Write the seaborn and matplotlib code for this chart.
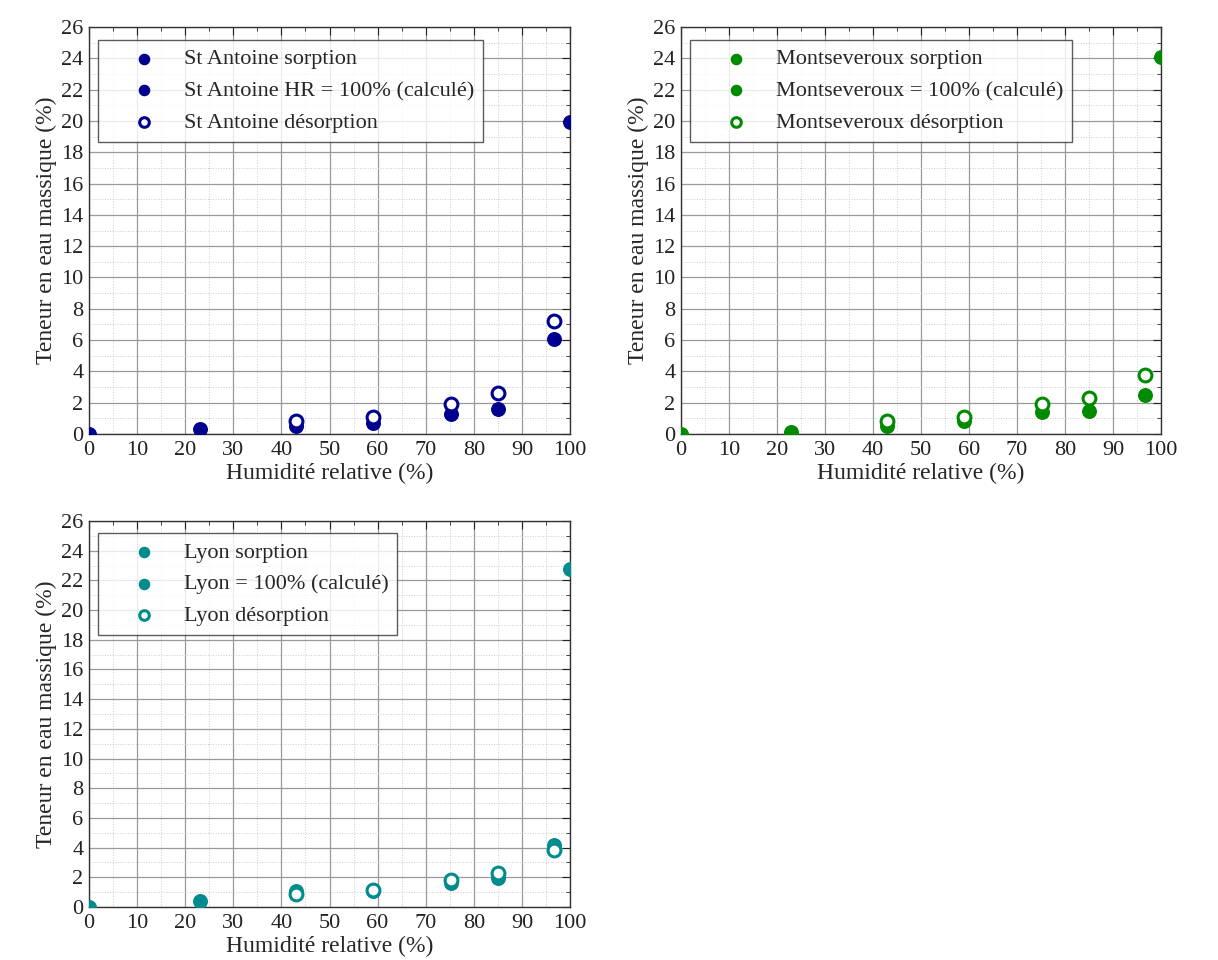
import numpy as np
import pandas as pd
import matplotlib
matplotlib.use("Agg")
import matplotlib.pyplot as plt
import seaborn as sns
from matplotlib.ticker import MultipleLocator

sns.set_style("white")
plt.rcParams['font.family'] = ['Liberation Serif', 'DejaVu Serif']

# Data
hr_sorp = [0, 23, 43, 59, 75.3, 85, 96.7]
hr_desorp = [43, 59, 75.3, 85, 96.7]
hr_calc = [100]

stantoine_sorp = [0, 0.35, 0.5, 0.7, 1.3, 1.6, 6.05]
stantoine_calc = [19.9]
stantoine_desorp = [0.8, 1.1, 1.9, 2.6, 7.25]

montsev_sorp = [0, 0.15, 0.5, 0.8, 1.4, 1.5, 2.5]
montsev_calc = [24.1]
montsev_desorp = [0.85, 1.1, 1.9, 2.3, 3.75]

lyon_sorp = [0, 0.4, 1.1, 1.05, 1.6, 1.95, 4.15]
lyon_calc = [22.8]
lyon_desorp = [0.85, 1.15, 1.85, 2.3, 3.85]

panels = [
    ("St Antoine", "St Antoine HR = 100% (calculé)", "#00008f",
     stantoine_sorp, stantoine_calc, stantoine_desorp),
    ("Montseveroux", "Montseveroux = 100% (calculé)", "#008a00",
     montsev_sorp, montsev_calc, montsev_desorp),
    ("Lyon", "Lyon = 100% (calculé)", "#008c8c",
     lyon_sorp, lyon_calc, lyon_desorp),
]

fig = plt.figure(figsize=(12.18, 9.6), dpi=100)
W, H = 1218, 960
boxes = [(89, 27, 570, 434), (681, 27, 1161, 434), (89, 521, 570, 907)]

for (name, calc_label, color, sorp, calc, desorp), (x0, y0, x1, y1) in zip(panels, boxes):
    ax = fig.add_axes([x0 / W, 1 - y1 / H, (x1 - x0) / W, (y1 - y0) / H])
    sns.scatterplot(x=hr_sorp, y=sorp, ax=ax, color=color, s=95,
                    edgecolor=color, linewidth=1, label=f"{name} sorption", zorder=3)
    sns.scatterplot(x=hr_calc, y=calc, ax=ax, color=color, s=95,
                    edgecolor=color, linewidth=1, label=calc_label, zorder=3)
    sns.scatterplot(x=hr_desorp, y=desorp, ax=ax, facecolor="white", s=85,
                    edgecolor=color, linewidth=2.2, label=f"{name} désorption", zorder=4)

    ax.set_xlim(0, 100)
    ax.set_ylim(0, 26)
    ax.xaxis.set_major_locator(MultipleLocator(10))
    ax.xaxis.set_minor_locator(MultipleLocator(5))
    ax.yaxis.set_major_locator(MultipleLocator(2))
    ax.yaxis.set_minor_locator(MultipleLocator(1))
    ax.grid(which="major", color="#999999", linewidth=0.9, linestyle="-")
    ax.grid(which="minor", color="#cccccc", linewidth=0.7, linestyle=":")
    ax.set_axisbelow(True)
    ax.tick_params(which="both", direction="in", top=True, right=True,
                   labelsize=16, colors="#222222")
    ax.tick_params(axis="x", pad=5)
    ax.tick_params(axis="y", pad=4)
    ax.tick_params(which="major", length=6)
    ax.tick_params(which="minor", length=3)
    for sp in ax.spines.values():
        sp.set_color("#333333")
        sp.set_linewidth(1)
    ax.set_xlabel("Humidité relative (%)", fontsize=17, labelpad=2)
    ax.set_ylabel("Teneur en eau massique (%)", fontsize=17, labelpad=3)

    leg = ax.legend(loc="upper left", bbox_to_anchor=(0.019, 0.968),
                    fontsize=16, frameon=True, fancybox=False,
                    edgecolor="#333333", handlelength=3.3, handletextpad=0.15,
                    borderpad=0.4, labelspacing=0.5, markerscale=0.75,
                    borderaxespad=0)
    leg.get_frame().set_linewidth(1)

fig.savefig("out.png", dpi=100)
